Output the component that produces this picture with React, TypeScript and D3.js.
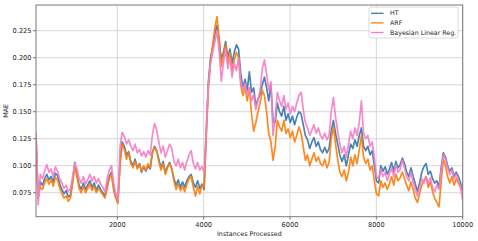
import React from "react";
import * as d3 from "d3";

// MAE, ~50 instances apart from 117 to 10000
const htValues = [
  0.125, 0.07, 0.085, 0.082, 0.088, 0.092, 0.087, 0.09, 0.085, 0.093, 0.091, 0.083, 0.078, 0.074, 0.077, 0.071, 0.073, 0.086, 0.103, 0.092,
  0.082, 0.078, 0.084, 0.078, 0.082, 0.086, 0.08, 0.084, 0.077, 0.082, 0.078, 0.075, 0.072, 0.081, 0.09, 0.094, 0.08, 0.071, 0.067,
  0.105, 0.122, 0.118, 0.11, 0.113, 0.104, 0.1, 0.106, 0.098, 0.102, 0.094, 0.099, 0.095, 0.1, 0.097, 0.112, 0.118, 0.114, 0.106, 0.098,
  0.104, 0.094, 0.099, 0.103, 0.097, 0.088, 0.082, 0.087, 0.08, 0.085, 0.08, 0.086, 0.09, 0.092, 0.084, 0.08, 0.086, 0.079, 0.083, 0.078,
  0.13, 0.178, 0.2, 0.21, 0.222, 0.23, 0.215, 0.198, 0.205, 0.215, 0.2, 0.208, 0.195, 0.205, 0.212, 0.208, 0.185, 0.172, 0.18, 0.17,
  0.187, 0.168, 0.172, 0.155, 0.162, 0.166, 0.175, 0.182, 0.172, 0.16, 0.175, 0.14, 0.14, 0.158, 0.15, 0.146, 0.155, 0.142, 0.148, 0.14,
  0.146, 0.138, 0.145, 0.15, 0.148, 0.138, 0.128, 0.124, 0.116, 0.122, 0.126, 0.118, 0.122, 0.115, 0.112, 0.117, 0.112, 0.116, 0.132, 0.142,
  0.13, 0.12, 0.11, 0.104, 0.11, 0.1, 0.11, 0.12, 0.116, 0.124, 0.118, 0.128, 0.135, 0.118, 0.114, 0.118, 0.11, 0.114, 0.1, 0.086,
  0.084, 0.1, 0.095, 0.099, 0.092, 0.097, 0.103, 0.095, 0.104, 0.098, 0.101, 0.107, 0.102, 0.094, 0.09, 0.098, 0.09, 0.083, 0.076, 0.084,
  0.094, 0.099, 0.102, 0.092, 0.095, 0.088, 0.084, 0.086, 0.08, 0.098, 0.112, 0.108, 0.1, 0.095, 0.098, 0.09, 0.094, 0.09, 0.084, 0.077,
];

const arfValues = [
  0.128, 0.072, 0.08, 0.078, 0.084, 0.088, 0.083, 0.087, 0.081, 0.089, 0.087, 0.079, 0.074, 0.07, 0.072, 0.067, 0.07, 0.084, 0.1, 0.09,
  0.079, 0.075, 0.081, 0.075, 0.079, 0.083, 0.077, 0.081, 0.075, 0.079, 0.076, 0.073, 0.07, 0.079, 0.088, 0.092, 0.078, 0.07, 0.065,
  0.1, 0.12, 0.115, 0.106, 0.112, 0.102, 0.098, 0.104, 0.097, 0.101, 0.095, 0.1, 0.096, 0.102, 0.098, 0.112, 0.117, 0.113, 0.104, 0.096,
  0.102, 0.092, 0.098, 0.102, 0.097, 0.086, 0.078, 0.083, 0.077, 0.081, 0.076, 0.083, 0.088, 0.09, 0.08, 0.072, 0.081, 0.074, 0.082, 0.08,
  0.128, 0.172, 0.196, 0.212, 0.228, 0.238, 0.218, 0.192, 0.202, 0.212, 0.195, 0.205, 0.188, 0.198, 0.205, 0.2, 0.175, 0.165, 0.172, 0.16,
  0.172, 0.148, 0.132, 0.14, 0.15, 0.158, 0.17, 0.165, 0.15, 0.13, 0.122, 0.105, 0.118, 0.142, 0.136, 0.132, 0.142, 0.13, 0.134, 0.126,
  0.132, 0.122, 0.128, 0.136, 0.13, 0.118, 0.105, 0.11, 0.1, 0.106, 0.112, 0.104, 0.108, 0.102, 0.1, 0.106, 0.098, 0.103, 0.125, 0.136,
  0.12, 0.106, 0.094, 0.09, 0.096, 0.086, 0.094, 0.108, 0.1, 0.11, 0.102, 0.115, 0.128, 0.108, 0.102, 0.106, 0.096, 0.1, 0.086, 0.074,
  0.072, 0.086, 0.08, 0.084, 0.078, 0.083, 0.09, 0.082, 0.092, 0.086, 0.089, 0.094, 0.088, 0.082, 0.077, 0.085, 0.078, 0.07, 0.066, 0.074,
  0.082, 0.086, 0.09, 0.08, 0.085, 0.076, 0.07, 0.066, 0.062, 0.085, 0.106, 0.1, 0.09, 0.084, 0.09, 0.082, 0.088, 0.084, 0.08, 0.082,
];

const blrValues = [
  0.131, 0.064, 0.092, 0.088, 0.095, 0.101, 0.094, 0.097, 0.09, 0.099, 0.095, 0.088, 0.084, 0.079, 0.082, 0.076, 0.079, 0.09, 0.102, 0.097,
  0.088, 0.084, 0.09, 0.083, 0.087, 0.092, 0.086, 0.09, 0.084, 0.088, 0.083, 0.08, 0.076, 0.088, 0.096, 0.1, 0.085, 0.074, 0.068,
  0.118, 0.131, 0.127, 0.12, 0.124, 0.118, 0.114, 0.12, 0.112, 0.115, 0.109, 0.113, 0.108, 0.114, 0.11, 0.128, 0.139, 0.133, 0.122, 0.112,
  0.118, 0.108, 0.114, 0.12, 0.116, 0.104, 0.1, 0.106, 0.098, 0.103, 0.096, 0.104, 0.11, 0.114, 0.102, 0.097, 0.103, 0.096, 0.099, 0.094,
  0.135, 0.175, 0.195, 0.205, 0.215, 0.225, 0.205, 0.178, 0.196, 0.208, 0.19, 0.2, 0.182, 0.195, 0.188, 0.2, 0.178, 0.17, 0.176, 0.165,
  0.172, 0.16, 0.166, 0.152, 0.16, 0.17, 0.19, 0.198, 0.185, 0.17, 0.178, 0.128, 0.145, 0.168, 0.16, 0.155, 0.165, 0.152, 0.158, 0.148,
  0.155, 0.15, 0.158, 0.165, 0.168, 0.152, 0.14, 0.135, 0.128, 0.133, 0.138, 0.13, 0.135, 0.128, 0.125, 0.13, 0.124, 0.128, 0.15, 0.163,
  0.145, 0.132, 0.12, 0.112, 0.118, 0.108, 0.12, 0.132, 0.125, 0.135, 0.128, 0.14, 0.16, 0.13, 0.125, 0.128, 0.118, 0.122, 0.108, 0.09,
  0.088, 0.097, 0.09, 0.094, 0.086, 0.092, 0.098, 0.09, 0.101, 0.094, 0.097, 0.105, 0.098, 0.09, 0.086, 0.094, 0.085, 0.078, 0.072, 0.08,
  0.088, 0.084, 0.09, 0.084, 0.089, 0.08, 0.076, 0.082, 0.078, 0.095, 0.11, 0.106, 0.098, 0.092, 0.096, 0.088, 0.092, 0.086, 0.08, 0.068,
];

const seriesNames = ["HT", "ARF", "Bayesian Linear Reg."];
const seriesColors = ["#3a78b0", "#ff7f0e", "#f57fc7"];
const xTicks = [2000, 4000, 6000, 8000, 10000];
const yTicks = [0.075, 0.1, 0.125, 0.15, 0.175, 0.2, 0.225];

const W = 478;
const H = 241;
const margin = { top: 5, right: 15.3, bottom: 24.3, left: 36 };
const font = "DejaVu Sans, sans-serif";

export default function App() {
  const iw = W - margin.left - margin.right;
  const ih = H - margin.top - margin.bottom;

  const x = d3.scaleLinear().domain([117, 10000]).range([0, iw]);
  const y = d3.scaleLinear().domain([0.0528, 0.2488]).range([ih, 0]);

  const n = blrValues.length;
  const inst = (i: number) => 117 + (i * (10000 - 117)) / (n - 1);

  const line = d3
    .line<number>()
    .x((_, i) => x(inst(i)))
    .y((d) => y(d));

  const all = [htValues, arfValues, blrValues];

  return (
    <svg
      width={W}
      height={H}
      style={{ position: "absolute", left: 0, top: 0, background: "#fff" }}
      fontFamily={font}
    >
      <defs>
        <clipPath id="plot">
          <rect x={0} y={0} width={iw} height={ih} />
        </clipPath>
      </defs>
      <g transform={`translate(${margin.left},${margin.top})`}>
        {/* grid */}
        {xTicks.map((t) => (
          <line key={"gx" + t} x1={x(t)} x2={x(t)} y1={0} y2={ih} stroke="#d2d2d2" strokeWidth={0.9} />
        ))}
        {yTicks.map((t) => (
          <line key={"gy" + t} x1={0} x2={iw} y1={y(t)} y2={y(t)} stroke="#d2d2d2" strokeWidth={0.9} />
        ))}

        <g clipPath="url(#plot)">
          {all.map((vals, s) => (
            <path
              key={seriesNames[s]}
              d={line(vals) ?? ""}
              fill="none"
              stroke={seriesColors[s]}
              strokeWidth={1.7}
              strokeLinejoin="round"
              opacity={0.92}
            />
          ))}
        </g>

        {/* frame */}
        <rect x={0} y={0} width={iw} height={ih} fill="none" stroke="#7a7a7a" strokeWidth={1} />

        {/* x axis */}
        {xTicks.map((t) => (
          <g key={"tx" + t} transform={`translate(${x(t)},${ih})`}>
            <line y1={0} y2={3} stroke="#555" strokeWidth={0.8} />
            <text y={10} textAnchor="middle" fontSize={6.6} fill="#222">
              {t}
            </text>
          </g>
        ))}
        {/* y axis */}
        {yTicks.map((t) => (
          <g key={"ty" + t} transform={`translate(0,${y(t)})`}>
            <line x1={0} x2={-3} stroke="#555" strokeWidth={0.8} />
            <text x={-4.5} dy="0.34em" textAnchor="end" fontSize={6.6} fill="#222">
              {d3.format(".3f")(t)}
            </text>
          </g>
        ))}

        <text x={iw / 2} y={ih + 19.5} textAnchor="middle" fontSize={6.4} fill="#222">
          Instances Processed
        </text>
        <text
          transform={`translate(${-28.5},${ih / 2}) rotate(-90)`}
          textAnchor="middle"
          fontSize={6.4}
          fill="#222"
        >
          MAE
        </text>

        {/* legend */}
        <g transform={`translate(${369 - margin.left},${7 - margin.top})`}>
          <rect x={0} y={0} width={89} height={31} rx={2} fill="#fff" fillOpacity={0.85} stroke="#d0d0d0" strokeWidth={0.8} />
          {seriesNames.map((name, i) => (
            <g key={name} transform={`translate(0,${6.3 + i * 9.6})`}>
              <line x1={2} x2={14.5} y1={0} y2={0} stroke={seriesColors[i]} strokeWidth={1.3} />
              <text x={21} dy="0.34em" fontSize={6.3} fill="#222">
                {name}
              </text>
            </g>
          ))}
        </g>
      </g>
    </svg>
  );
}
